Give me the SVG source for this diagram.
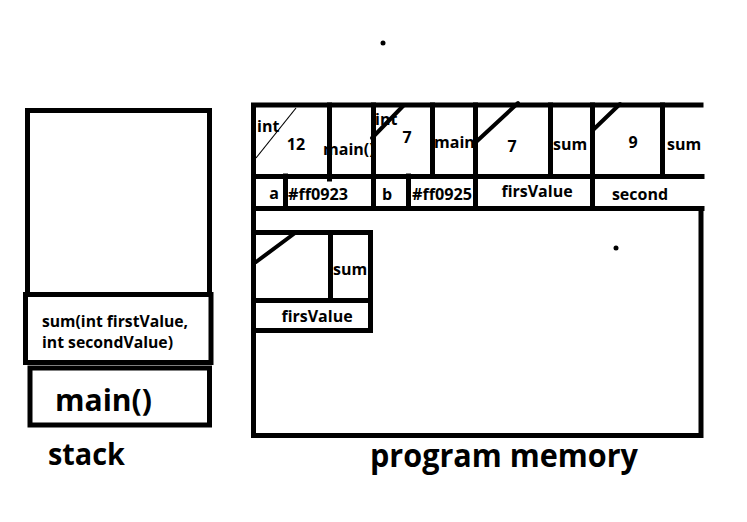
<svg xmlns="http://www.w3.org/2000/svg" width="747" height="522" viewBox="0 0 747 522">
<style>
.ln{stroke:#000;stroke-width:5;fill:none;stroke-linecap:square}
.sl{stroke:#000;stroke-width:4;fill:none;stroke-linecap:round}
.t{font-family:"Open Sans","DejaVu Sans",sans-serif;font-weight:700;font-size:16px;fill:#000}
.c{text-anchor:middle}
.big{font-size:30px}
</style>
<rect width="747" height="522" fill="#fff"/>
<g id="dots">
<circle cx="383" cy="43" r="2.5" fill="#000"/>
<circle cx="616" cy="248" r="2.5" fill="#000"/>
</g>
<g id="stack">
<g id="stack-area">
<path class="ln" d="M27.5 294 V110.5 H209.5 V294"/>
</g>
<g id="frame-sum">
<rect class="ln" x="25.5" y="294.5" width="185.5" height="68"/>
<text class="t" x="42" y="327" textLength="146" lengthAdjust="spacingAndGlyphs">sum(int firstValue,</text>
<text class="t" x="42" y="348" textLength="131" lengthAdjust="spacingAndGlyphs">int secondValue)</text>
</g>
<g id="frame-main">
<rect class="ln" x="30" y="368" width="179.5" height="57"/>
<text class="t big" x="55" y="411" textLength="97" lengthAdjust="spacingAndGlyphs">main()</text>
</g>
<text class="t big" x="48" y="465" textLength="77" lengthAdjust="spacingAndGlyphs">stack</text>
</g>
<g id="program-memory">
<g id="cell-texts">
<text class="t" x="257" y="132">int</text>
<text class="t c" x="296" y="150">12</text>
<text class="t" x="323" y="155">main()</text>
<text class="t" x="375" y="125">int</text>
<text class="t c" x="407" y="143">7</text>
<text class="t" x="434" y="148">main</text>
<text class="t c" x="512" y="152">7</text>
<text class="t" x="553" y="150">sum</text>
<text class="t c" x="633" y="148">9</text>
<text class="t" x="667" y="150">sum</text>
<text class="t c" x="274" y="199">a</text>
<text class="t" x="288" y="200" textLength="60" lengthAdjust="spacingAndGlyphs">#ff0923</text>
<text class="t c" x="387" y="200">b</text>
<text class="t" x="412" y="200" textLength="60" lengthAdjust="spacingAndGlyphs">#ff0925</text>
<text class="t c" x="537" y="197">firsValue</text>
<text class="t c" x="640" y="200">second</text>
</g>
<g id="memory-box">
<path class="ln" d="M701 105 H253.5 V435.5 H701 V208.5"/>
<path class="ln" d="M253.5 176.5 H702"/>
<path class="ln" d="M253.5 208.5 H702"/>
<path class="ln" d="M329.5 105 V179"/>
<path class="ln" d="M373.5 105 V208"/>
<path class="ln" d="M432.5 105 V176"/>
<path class="ln" d="M475.5 105 V208"/>
<path class="ln" d="M550.5 105 V176"/>
<path class="ln" d="M592.5 105 V208"/>
<path class="ln" d="M662.5 105 V176"/>
<path class="ln" d="M285.5 176 V208"/>
<path class="ln" d="M408.5 176 V208"/>
<line x1="256" y1="158" x2="296" y2="108" stroke="#000" stroke-width="1.2"/>
<line class="sl" x1="372" y1="138" x2="404" y2="105"/>
<line class="sl" x1="476" y1="142" x2="518" y2="103"/>
<line class="sl" x1="593" y1="130" x2="620" y2="104"/>
</g>
<g id="frame-sum-heap">
<text class="t" x="333" y="275">sum</text>
<text class="t c" x="317" y="322">firsValue</text>
<path class="ln" d="M253.5 232.5 H370.5 V330.5 H253.5"/>
<path class="ln" d="M253.5 300.5 H370.5"/>
<path class="ln" d="M330.5 232.5 V300"/>
<line class="sl" x1="256" y1="262" x2="295" y2="233"/>
</g>
<text class="t" x="370" y="467" font-size="32" style="font-size:32px" textLength="268" lengthAdjust="spacingAndGlyphs">program memory</text>
</g>
<g id="connectors"/>
</svg>
